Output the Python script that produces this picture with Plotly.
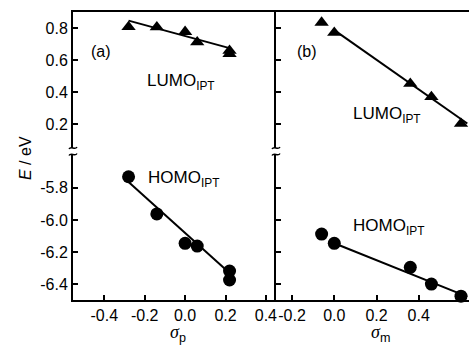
import plotly.graph_objects as go

# ---------------- data ----------------
sigma_p = [-0.28, -0.14, 0.0, 0.06, 0.22, 0.22]
lumo_a = [0.809, 0.807, 0.778, 0.713, 0.660, 0.640]
homo_a = [-5.732, -5.963, -6.145, -6.162, -6.317, -6.373]
fit_a_x = [-0.28, 0.22]
fit_lumo_a = [0.848, 0.676]
fit_homo_a = [-5.765, -6.330]

sigma_m = [-0.06, 0.0, 0.36, 0.46, 0.60]
lumo_b = [0.836, 0.773, 0.454, 0.371, 0.204]
homo_b = [-6.088, -6.145, -6.294, -6.398, -6.473]
fit_b_x = [0.0, 0.63]
fit_lumo_b = [0.789, 0.205]
fit_homo_b = [-6.145, -6.476]

xa_ticks = [-0.4, -0.2, 0.0, 0.2, 0.4]
xa_text = ["-0.4", "-0.2", "0.0", "0.2", "0.4"]
xb_ticks = [-0.2, 0.0, 0.2, 0.4, 0.6]
xb_text = ["-0.2", "0.0", "0.2", "0.4", "0.6"]
y_low_ticks = [-6.4, -6.2, -6.0, -5.8]
y_low_text = ["-6.4", "-6.2", "-6.0", "-5.8"]
y_up_ticks = [0.2, 0.4, 0.6, 0.8]
y_up_text = ["0.2", "0.4", "0.6", "0.8"]

# ---------------- layout geometry ----------------
W, H = 469, 346
L, T, B, R = 73, 12, 46, 0
PW, PH = W - L - R, H - T - B
X_DIV = 276
Y_UP_BOTTOM, Y_LOW_TOP = 148, 155


def paper(x, y):
    return (x - L) / PW, (H - B - y) / PH


xl = [0, (X_DIV - L) / PW]
xr = [(X_DIV - L) / PW, 1]
ylow = [0, paper(0, Y_LOW_TOP)[1]]
yup = [paper(0, Y_UP_BOTTOM)[1], 1]

FONT = "Liberation Sans, Arial, sans-serif"
fig = go.Figure()

mk_tri = dict(symbol="triangle-up", size=12.5, color="black", line=dict(width=0))
mk_cir = dict(symbol="circle", size=13, color="black", line=dict(width=0))
ln = dict(color="black", width=2)

fig.add_trace(go.Scatter(x=fit_a_x, y=fit_lumo_a, mode="lines", line=ln, xaxis="x3", yaxis="y3"))
fig.add_trace(go.Scatter(x=sigma_p, y=lumo_a, mode="markers", marker=mk_tri, xaxis="x3", yaxis="y3", cliponaxis=False))
fig.add_trace(go.Scatter(x=fit_a_x, y=fit_homo_a, mode="lines", line=ln, xaxis="x", yaxis="y"))
fig.add_trace(go.Scatter(x=sigma_p, y=homo_a, mode="markers", marker=mk_cir, xaxis="x", yaxis="y", cliponaxis=False))
fig.add_trace(go.Scatter(x=fit_b_x, y=fit_lumo_b, mode="lines", line=ln, xaxis="x4", yaxis="y4"))
fig.add_trace(go.Scatter(x=sigma_m, y=lumo_b, mode="markers", marker=mk_tri, xaxis="x4", yaxis="y4", cliponaxis=False))
fig.add_trace(go.Scatter(x=fit_b_x, y=fit_homo_b, mode="lines", line=ln, xaxis="x2", yaxis="y2"))
fig.add_trace(go.Scatter(x=sigma_m, y=homo_b, mode="markers", marker=mk_cir, xaxis="x2", yaxis="y2", cliponaxis=False))

common = dict(showgrid=False, zeroline=False, showline=True, linecolor="black", linewidth=2,
              ticks="inside", ticklen=5, tickwidth=2, tickcolor="black", automargin=False,
              tickfont=dict(family=FONT, size=16, color="black"))

xa_range = [-0.555, 0.45]
xb_range = [-0.276, 0.638]

fig.update_layout(
    width=W, height=H, margin=dict(l=L, r=R, t=T, b=B, autoexpand=False),
    paper_bgcolor="white", plot_bgcolor="white", showlegend=False,
    xaxis=dict(common, domain=xl, anchor="y", range=xa_range, tickvals=xa_ticks, ticktext=xa_text),
    xaxis2=dict(common, domain=xr, anchor="y2", range=xb_range, tickvals=xb_ticks, ticktext=xb_text),
    xaxis3=dict(common, domain=xl, anchor="y3", range=xa_range, side="top", ticks="", showticklabels=False),
    xaxis4=dict(common, domain=xr, anchor="y4", range=xb_range, side="top", ticks="", showticklabels=False),
    yaxis=dict(common, domain=ylow, anchor="x", range=[-6.497, -5.597], tickvals=y_low_ticks,
               ticktext=y_low_text),
    yaxis2=dict(common, domain=ylow, anchor="x2", range=[-6.497, -5.597], tickvals=y_low_ticks,
                showticklabels=False),
    yaxis3=dict(common, domain=yup, anchor="x3", range=[0.052, 0.902], tickvals=y_up_ticks,
                ticktext=y_up_text),
    yaxis4=dict(common, domain=yup, anchor="x4", range=[0.052, 0.902], tickvals=y_up_ticks,
                showticklabels=False),
)


def add_text(text, x, y, size, xanchor="left", yanchor="middle", **kw):
    px_, py_ = paper(x, y)
    fig.add_annotation(text=text, x=px_, y=py_, xref="paper", yref="paper", showarrow=False,
                       xanchor=xanchor, yanchor=yanchor,
                       font=dict(family=FONT, size=size, color="black"), **kw)


add_text("(a)", 101, 52, 16, xanchor="center")
add_text("(b)", 307, 52, 16, xanchor="center")
add_text("LUMO<sub>IPT</sub>", 145, 82, 17)
add_text("HOMO<sub>IPT</sub>", 146, 179, 17)
add_text("LUMO<sub>IPT</sub>", 351, 115, 17)
add_text("HOMO<sub>IPT</sub>", 351, 227, 17)
add_text("<i>E</i> / eV", 25, 158, 16, xanchor="center", textangle=-90)
add_text("<span style='font-family:Liberation Serif'><i>σ</i></span><sub>p</sub>", 178, 333, 18, xanchor="center")
add_text("<span style='font-family:Liberation Serif'><i>σ</i></span><sub>m</sub>", 380, 333, 18, xanchor="center")

# axis-break tildes
for bx in (L, X_DIV):
    for by in (Y_UP_BOTTOM, Y_LOW_TOP - 0.5):
        pts = [(bx - 4, by + 1), (bx - 2, by - 2.5), (bx + 2, by + 2.5), (bx + 4, by - 1)]
        pp = [paper(*p) for p in pts]
        path = "M {:.5f},{:.5f} C {:.5f},{:.5f} {:.5f},{:.5f} {:.5f},{:.5f}".format(
            pp[0][0], pp[0][1], pp[1][0], pp[1][1], pp[2][0], pp[2][1], pp[3][0], pp[3][1])
        fig.add_shape(type="path", path=path, xref="paper", yref="paper",
                      line=dict(color="black", width=1.5))

fig.write_html("out.html", config={"displayModeBar": False, "staticPlot": True},
               post_script="document.body.style.margin='0';document.body.style.overflow='hidden';")
